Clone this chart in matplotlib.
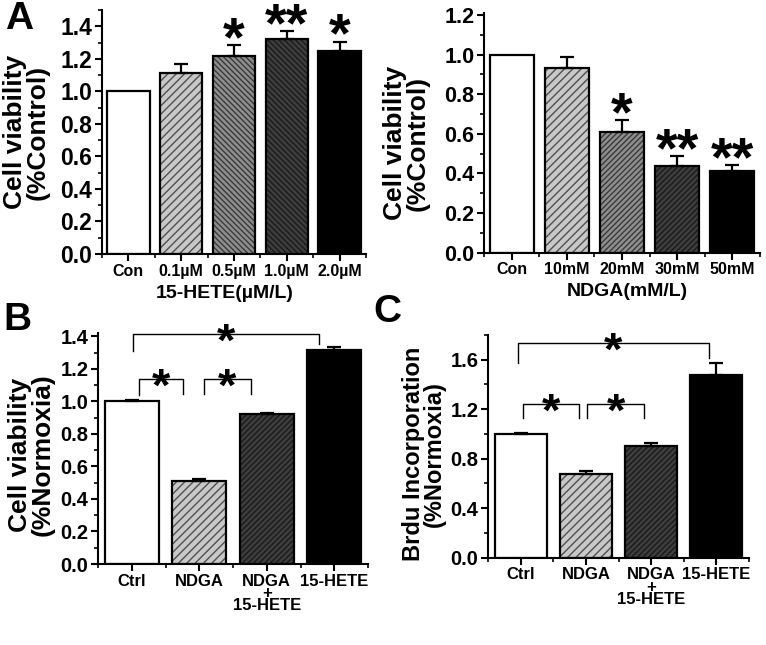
import numpy as np
import matplotlib
matplotlib.use('Agg')
import matplotlib.pyplot as plt
from matplotlib.ticker import MultipleLocator, FixedLocator

plt.rcParams['font.family'] = ['Liberation Sans', 'DejaVu Sans']
plt.rcParams['font.weight'] = 'bold'
plt.rcParams['hatch.linewidth'] = 1.0

# panel A, left: 15-HETE dose
hete_labels = ['Con', '0.1µM', '0.5µM', '1.0µM', '2.0µM']
hete_mean = [1.00, 1.11, 1.22, 1.32, 1.25]
hete_err = [0.0, 0.06, 0.065, 0.05, 0.055]
hete_sig = ['', '', '*', '**', '*']

# panel A, right: NDGA dose
ndga_labels = ['Con', '10mM', '20mM', '30mM', '50mM']
ndga_mean = [1.00, 0.93, 0.61, 0.44, 0.41]
ndga_err = [0.0, 0.06, 0.06, 0.05, 0.035]
ndga_sig = ['', '', '*', '**', '**']

# panels B and C
grp_labels = ['Ctrl', 'NDGA', 'NDGA\n+\n15-HETE', '15-HETE']
viab_mean = [1.00, 0.51, 0.92, 1.315]
viab_err = [0.01, 0.015, 0.01, 0.02]
brdu_mean = [1.00, 0.675, 0.90, 1.478]
brdu_err = [0.01, 0.025, 0.03, 0.095]

W, H = 766, 645

def rect(x0, x1, y_bottom, y_top):
    return [x0 / W, 1 - y_bottom / H, (x1 - x0) / W, (y_bottom - y_top) / H]

WHITE = ('white', None, 'none')
LIGHT = ('#c8c8c8', '////', '#505050')
MID_B = ('#8e8e8e', '\\\\\\\\\\\\', '#3a3a3a')
DARK_B = ('#3e3e3e', '\\\\\\\\\\\\', '#1a1a1a')
MID_F = ('#8e8e8e', '//////', '#3a3a3a')
DARK_F = ('#3e3e3e', '//////', '#1a1a1a')
BLACK = ('black', None, 'none')
STAR_SHIFT = 0.47


def draw_bars(ax, means, errs, styles, labels, tick_fs, tick_family=None):
    x = np.arange(len(means))
    for xi, m, e, (face, hatch, hcol) in zip(x, means, errs, styles):
        ax.bar(xi, m, width=0.8, color=face, edgecolor=hcol, hatch=hatch,
               linewidth=0, zorder=2)
        ax.bar(xi, m, width=0.8, fill=False, edgecolor='black', linewidth=1.6, zorder=3)
        if e > 0:
            ax.errorbar(xi, m, yerr=[[0], [e]], fmt='none', ecolor='black',
                        elinewidth=1.6, capsize=5, capthick=1.6, zorder=4)
    ax.set_xlim(-0.5, len(means) - 0.5)
    ax.set_xticks(x)
    kw = {'family': tick_family} if tick_family else {}
    ax.set_xticklabels(labels, fontsize=tick_fs, fontweight='bold', linespacing=0.78, **kw)
    ax.xaxis.set_minor_locator(FixedLocator(np.arange(-0.5, len(means), 1.0)))
    for s in ['top', 'right']:
        ax.spines[s].set_visible(False)
    for s in ['left', 'bottom']:
        ax.spines[s].set_linewidth(1.5)
    ax.tick_params(which='major', direction='out', length=5, width=1.5, pad=2)
    ax.tick_params(which='minor', direction='out', length=3, width=1.2)
    return x


def stars(ax, x, means, errs, sig, fs, pad):
    for xi, m, e, s in zip(x, means, errs, sig):
        if s:
            ax.annotate(s, (xi, m + e + pad), xytext=(0, -STAR_SHIFT * fs),
                        textcoords='offset points', ha='center', va='baseline',
                        fontsize=fs, fontweight='bold', annotation_clip=False)


def bracket(ax, x1, x2, y, y1, y2, fs):
    ax.plot([x1, x1, x2, x2], [y1, y, y, y2], color='black', lw=1.0, clip_on=False, zorder=5)
    ax.annotate('*', ((x1 + x2) / 2, y), xytext=(0, -STAR_SHIFT * fs), textcoords='offset points',
                ha='center', va='baseline', fontsize=fs, fontweight='bold',
                annotation_clip=False, zorder=6)


fig = plt.figure(figsize=(7.66, 6.45), dpi=100)

# A left
ax1 = fig.add_axes(rect(102, 366, 254, 10))
x = draw_bars(ax1, hete_mean, hete_err, [WHITE, LIGHT, MID_B, DARK_B, BLACK], hete_labels, 11.5,
              ['Liberation Sans Narrow', 'Liberation Sans', 'DejaVu Sans'])
ax1.set_ylim(0, 1.5)
ax1.yaxis.set_major_locator(FixedLocator(np.arange(0, 1.41, 0.2)))
ax1.yaxis.set_minor_locator(MultipleLocator(0.1))
ax1.yaxis.set_major_formatter('{x:.1f}')
ax1.tick_params(axis='y', labelsize=16.5)
stars(ax1, x, hete_mean, hete_err, hete_sig, 40, 0.1)

# A right
ax2 = fig.add_axes(rect(484, 760, 252.7, 13))
x = draw_bars(ax2, ndga_mean, ndga_err, [WHITE, LIGHT, MID_F, DARK_F, BLACK], ndga_labels, 11.5)
ax2.set_ylim(0, 1.21)
ax2.yaxis.set_major_locator(FixedLocator(np.arange(0, 1.21, 0.2)))
ax2.yaxis.set_minor_locator(MultipleLocator(0.1))
ax2.yaxis.set_major_formatter('{x:.1f}')
ax2.tick_params(axis='y', labelsize=15.5)
stars(ax2, x, ndga_mean, ndga_err, ndga_sig, 40, 0.08)

# B
ax3 = fig.add_axes(rect(98, 368, 564, 333))
x = draw_bars(ax3, viab_mean, viab_err, [WHITE, LIGHT, DARK_F, BLACK], grp_labels, 12)
ax3.set_ylim(0, 1.42)
ax3.yaxis.set_major_locator(FixedLocator(np.arange(0, 1.41, 0.2)))
ax3.yaxis.set_minor_locator(MultipleLocator(0.1))
ax3.yaxis.set_major_formatter('{x:.1f}')
ax3.tick_params(axis='y', labelsize=14.5)
bracket(ax3, 0.1, 0.76, 1.138, 1.04, 1.045, 34)
bracket(ax3, 1.07, 1.76, 1.138, 1.045, 1.045, 34)
bracket(ax3, 0.02, 2.78, 1.414, 1.31, 1.35, 34)

# C
ax4 = fig.add_axes(rect(488, 749, 557.5, 335))
x = draw_bars(ax4, brdu_mean, brdu_err, [WHITE, LIGHT, DARK_F, BLACK], grp_labels, 12)
ax4.set_ylim(0, 1.8)
ax4.yaxis.set_major_locator(FixedLocator(np.arange(0, 1.61, 0.4)))
ax4.yaxis.set_minor_locator(MultipleLocator(0.2))
ax4.yaxis.set_major_formatter('{x:.1f}')
ax4.tick_params(axis='y', labelsize=14.5)
bracket(ax4, 0.04, 0.9, 1.242, 1.129, 1.129, 34)
bracket(ax4, 1.02, 1.89, 1.242, 1.129, 1.129, 34)
bracket(ax4, -0.04, 2.88, 1.739, 1.573, 1.613, 34)

# axis titles
def ftext(x, y, s, **kw):
    fig.text(x / W, 1 - y / H, s, ha='center', va='center', fontweight='bold', **kw)

ftext(26, 132, 'Cell viability\n(%Control)', rotation=90, fontsize=19, linespacing=0.92)
ftext(406, 143, 'Cell viability\n(%Control)', rotation=90, fontsize=19, linespacing=0.92)
ftext(31, 455, 'Cell viability\n(%Normoxia)', rotation=90, fontsize=19, linespacing=0.92)
ftext(424, 454, 'Brdu Incorporation\n(%Normoxia)', rotation=90, fontsize=17, linespacing=0.92)
ftext(225, 293, '15-HETE(µM/L)', fontsize=14)
ftext(627, 291, 'NDGA(mM/L)', fontsize=14)

# panel letters
ftext(19, 19, 'A', fontsize=28)
ftext(17, 320, 'B', fontsize=28)
ftext(387, 312, 'C', fontsize=28)

fig.savefig('out.png', dpi=100)
